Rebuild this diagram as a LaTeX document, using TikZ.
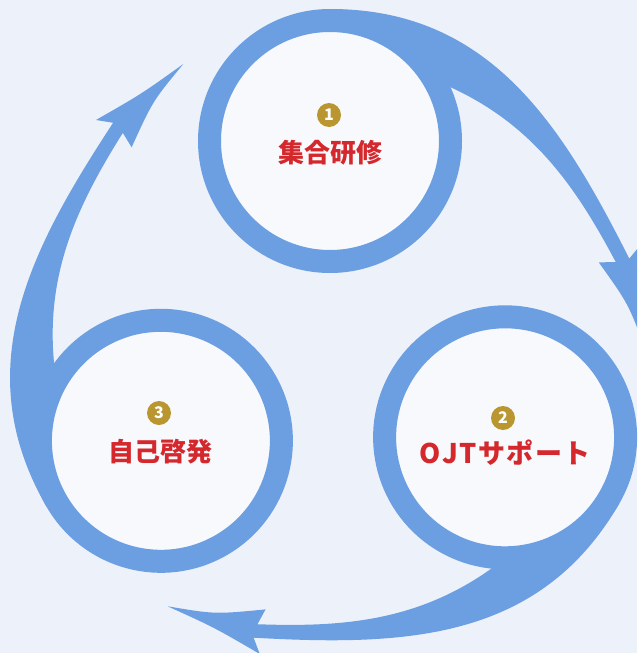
\documentclass[tikz,border=0pt]{standalone}
\usepackage{fontspec}
\newfontfamily\jp{Noto Sans CJK JP}
\definecolor{ringblue}{RGB}{108,159,226}
\definecolor{bgcol}{RGB}{237,241,249}
\definecolor{incol}{RGB}{247,249,253}
\definecolor{labred}{RGB}{212,40,44}
\definecolor{badgegold}{RGB}{186,150,48}
\tikzset{
  spiralarrow/.pic={
    \fill[ringblue] (0,-132) .. controls (160,-132) and (231.8,-15.9) .. (299.3,117.6)
      -- (310.3,104.2) .. controls (310.1,156.7) .. (315.1,207.8)
      .. controls (298.4,162.9) .. (268.8,121.4) -- (285.7,121)
      .. controls (246,46) and (203,-16.3) .. (120,-54)
      -- (68.1,-104.8) -- cycle;
    \fill[incol] (0,0) circle[radius=109pt];
    \draw[ringblue, line width=23pt] (0,0) circle[radius=120.5pt];
  },
  badge/.style={circle, fill=badgegold, minimum size=24pt, inner sep=0pt,
    text=white, font=\jp\bfseries\fontsize{16}{16}\selectfont},
  lab/.style={inner sep=0pt, text=labred, font=\jp\bfseries\fontsize{26}{26}\selectfont}
}
\begin{document}
\begin{tikzpicture}[x=1pt, y=-1pt]
\useasboundingbox (0,0) rectangle (637,653);
\clip (0,0) rectangle (637,653);
\fill[bgcol] (0,0) rectangle (637,653);
\coordinate (c1) at (330,141);
\coordinate (c2) at (505.1,437.3);
\coordinate (c3) at (160.9,440.8);
\pic at (c1) {spiralarrow};
\pic[rotate=-120] at (c2) {spiralarrow};
\pic[rotate=120] at (c3) {spiralarrow};
\node[badge] (b1) at (329,115) {1};
\node[lab] (t1) at (330,153) {集合研修};
\node[badge] (b2) at (503,418) {2};
\node[lab, font=\jp\bfseries\fontsize{27}{27}\selectfont] (t2) at (505,453)
  {O\kern1.5pt J\kern1.5pt T\kern1.5pt サ\kern1.5pt ポ\kern1.5pt ー\kern1.5pt ト};
\node[badge] (b3) at (159,413) {3};
\node[lab] (t3) at (160,452) {自己啓発};
\end{tikzpicture}
\end{document}
